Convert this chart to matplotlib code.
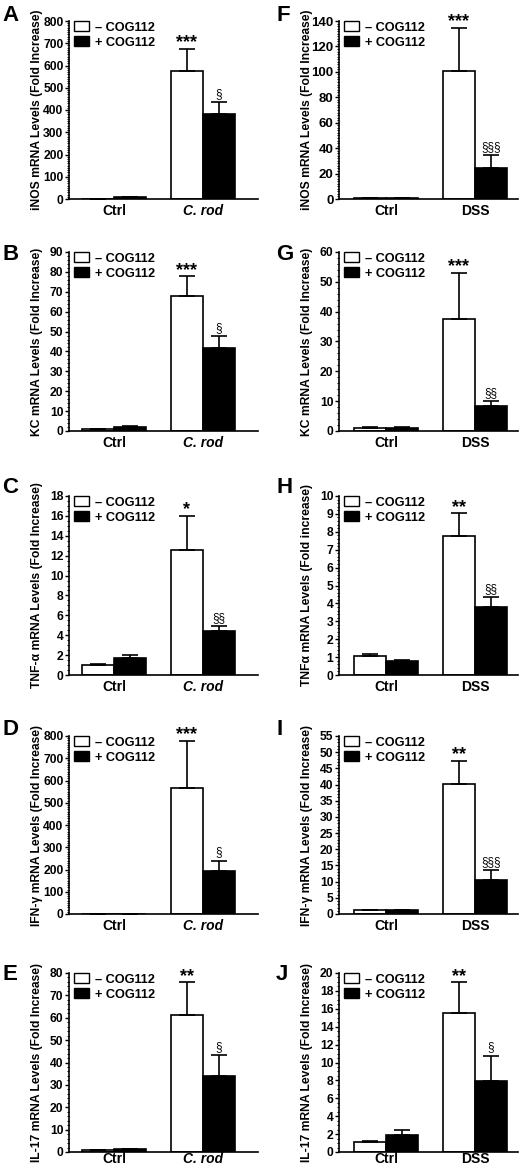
import numpy as np
import matplotlib
matplotlib.use("Agg")
import matplotlib.pyplot as plt
from matplotlib.ticker import MultipleLocator
from matplotlib.patches import Patch

plt.rcParams['font.family'] = ['Liberation Sans', 'DejaVu Sans']

letters = ["A", "B", "C", "D", "E", "F", "G", "H", "I", "J"]
groups_left = ["Ctrl", "C. rod"]
groups_right = ["Ctrl", "DSS"]
ylabels = [
    "iNOS mRNA Levels (Fold Increase)",
    "KC mRNA Levels (Fold Increase)",
    "TNF-\u03b1 mRNA Levels (Fold Increase)",
    "IFN-\u03b3 mRNA Levels (Fold Increase)",
    "IL-17 mRNA Levels (Fold Increase)",
    "iNOS mRNA Levels (Fold Increase)",
    "KC mRNA Levels (Fold Increase)",
    "TNF\u03b1 mRNA Levels (Fold increase)",
    "IFN-\u03b3 mRNA Levels (Fold Increase)",
    "IL-17 mRNA Levels (Fold Increase)",
]
ymax = [800, 90, 18, 800, 80, 140, 60, 10, 55, 20]
ystep = [100, 10, 2, 100, 10, 20, 10, 1, 5, 2]
nminor = [10, 5, 4, 10, 5, 10, 5, 5, 5, 4]

# - COG112
minus_mean = [[1, 576], [1.0, 67.8], [1.05, 12.6], [1, 567], [0.9, 61.3],
              [1.0, 100.8], [1.1, 37.6], [1.05, 7.76], [1.1, 40.3], [1.08, 15.5]]
minus_err = [[0.5, 99], [0.2, 10], [0.05, 3.4], [0.5, 210], [0.1, 14.5],
             [0.1, 34], [0.1, 15.3], [0.13, 1.27], [0.1, 6.9], [0.15, 3.45]]
# + COG112
plus_mean = [[8, 383], [2.0, 41.5], [1.7, 4.4], [1, 192], [1.3, 34.1],
             [1.0, 24.3], [0.9, 8.4], [0.78, 3.78], [1.1, 10.4], [1.94, 7.96]]
plus_err = [[2, 52], [0.4, 6.3], [0.35, 0.5], [0.5, 48], [0.15, 9.3],
            [0.1, 10.2], [0.3, 1.7], [0.08, 0.58], [0.1, 3.1], [0.56, 2.81]]
stars = ["***", "***", "*", "***", "**", "***", "***", "**", "**", "**"]
sections = ["\u00a7", "\u00a7", "\u00a7\u00a7", "\u00a7", "\u00a7",
            "\u00a7\u00a7\u00a7", "\u00a7\u00a7", "\u00a7\u00a7", "\u00a7\u00a7\u00a7", "\u00a7"]

W, H = 520, 1168
fig = plt.figure(figsize=(W / 100, H / 100), dpi=100)

rows = [(21, 199), (252, 431), (496, 675), (736, 914), (973, 1152)]
cols = [(69, 258), (339, 518)]
letter_y = [5, 244, 477, 719, 964]
letter_x = [2, 276]

bw = 0.36
for i in range(10):
    c = i // 5
    r = i % 5
    x0, x1 = cols[c]
    top, bot = rows[r]
    ax = fig.add_axes([x0 / W, 1 - bot / H, (x1 - x0) / W, (bot - top) / H])
    x = np.arange(2)
    mm = np.array(minus_mean[i]); me = np.array(minus_err[i])
    pm = np.array(plus_mean[i]); pe = np.array(plus_err[i])
    ekw = dict(lw=1.2, capsize=5.5, capthick=1.2, ecolor='black')
    ax.bar(x - bw / 2, mm, bw, color='white', edgecolor='black', lw=1.2,
           yerr=[np.zeros(2), me], error_kw=ekw, zorder=2)
    ax.bar(x + bw / 2, pm, bw, color='black', edgecolor='black', lw=1.2,
           yerr=[np.zeros(2), pe], error_kw=ekw, zorder=2)
    ax.annotate(stars[i], (1 - bw / 2, mm[1] + me[1]), xytext=(0, 1.2),
                textcoords='offset points', ha='center', va='baseline',
                fontsize=13, fontweight='bold')
    ax.annotate(sections[i], (1 + bw / 2, pm[1] + pe[1]), xytext=(0, 1.5),
                textcoords='offset points', ha='center', va='bottom',
                fontsize=8.5)

    if c == 0:
        ax.set_xlim((x0 - 114) / 89, (x1 - 114) / 89)
    else:
        ax.set_xlim((x0 - 386) / 89, (x1 - 386) / 89)
    ax.set_ylim(0, ymax[i])
    ax.yaxis.set_major_locator(MultipleLocator(ystep[i]))
    ax.yaxis.set_minor_locator(MultipleLocator(ystep[i] / nminor[i]))
    ax.set_xticks(x)
    if c == 0:
        ax.set_xticklabels(groups_left)
        ax.get_xticklabels()[1].set_style('italic')
    else:
        ax.set_xticklabels(groups_right)
    for s in ['top', 'right']:
        ax.spines[s].set_visible(False)
    for s in ['left', 'bottom']:
        ax.spines[s].set_linewidth(1.2)
    ax.tick_params(axis='x', length=0, pad=(0.3 if r == 4 else 3.5), labelsize=10)
    ax.tick_params(axis='y', which='major', length=3, width=1.0, pad=1,
                   labelsize=(9.5 if i == 5 else 8.7))
    ax.tick_params(axis='y', which='minor', length=1.5, width=0.7)
    for lab in ax.get_xticklabels() + ax.get_yticklabels():
        lab.set_fontweight('bold')
    ax.set_ylabel(ylabels[i], fontsize=8.7, fontweight='bold')
    ax.yaxis.set_label_coords(-26 / (x1 - x0), 0.5)

    handles = [Patch(facecolor='white', edgecolor='black', lw=1.0),
               Patch(facecolor='black', edgecolor='black', lw=1.0)]
    ax.legend(handles, ["\u2013 COG112", "+ COG112"], loc='upper left',
              bbox_to_anchor=(5 / (x1 - x0), 1.0), frameon=False,
              borderaxespad=0, borderpad=0, handlelength=1.2,
              handleheight=0.85, handletextpad=0.45, labelspacing=0.2,
              prop={'weight': 'bold', 'size': 9.2})

    fig.text(letter_x[c] / W, 1 - letter_y[r] / H, letters[i], ha='left', va='top',
             fontsize=16, fontweight='bold')

fig.savefig("out.png", dpi=100)
